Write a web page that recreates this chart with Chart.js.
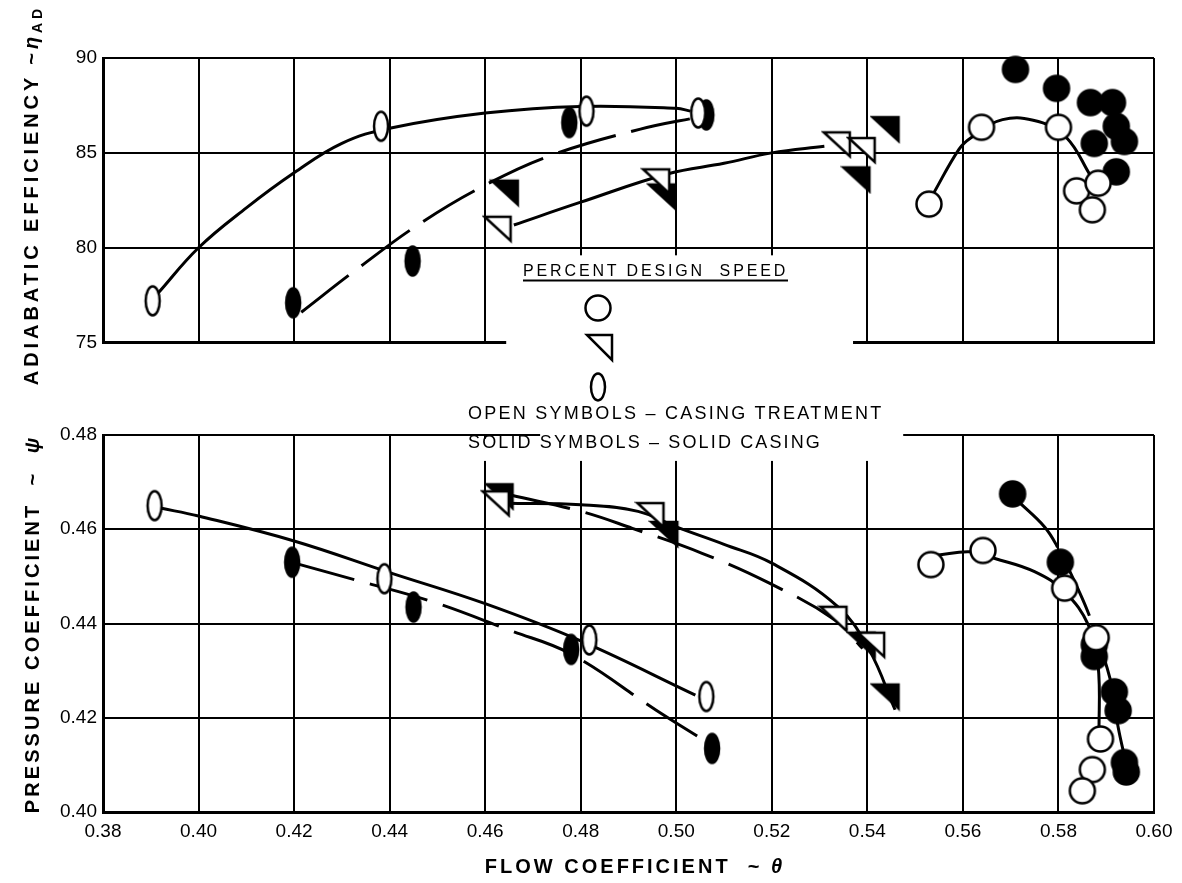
<!DOCTYPE html>
<html>
<head>
<meta charset="utf-8">
<script src="https://cdn.jsdelivr.net/npm/chart.js@4.4.0/dist/chart.umd.min.js"></script>
<style>
  body { margin: 0; background: #fff; width: 1182px; height: 883px; overflow: hidden; position: relative;
         font-family: "Liberation Sans", Arial, sans-serif; color: #000; }
  canvas { position: absolute; left: 0; }
  #effCanvas { top: 0; }
  #psiCanvas { top: 380px; }
  .txt { position: absolute; white-space: nowrap; line-height: 1; }
  .rot { transform: translate(-50%, -50%) rotate(-90deg); font-weight: bold; font-size: 20px; }
  .xtitle { transform: translate(-50%, -50%); font-weight: bold; font-size: 20px; }
  .legend { font-size: 18px; transform: translateY(-50%); }
  #speedHead { font-size: 16px; border-bottom: 2px solid #000; padding-bottom: 1px; }
  sub { font-size: 14px; vertical-align: -4px; }
  #legendSvg { position: absolute; left: 0; top: 0; }
</style>
</head>
<body>
<canvas id="effCanvas" width="1182" height="360"></canvas>
<canvas id="psiCanvas" width="1182" height="503"></canvas>

<div class="txt rot" id="effTitle" data-w="380" style="left:32px; top:195px">ADIABATIC EFFICIENCY ~<i>η</i><sub>AD</sub></div>
<div class="txt rot" id="psiTitle" data-w="378" style="left:32px; top:624px">PRESSURE COEFFICIENT &nbsp;~ &nbsp;<i>ψ</i></div>
<div class="txt xtitle" id="flowTitle" data-w="300" style="left:635px; top:866px">FLOW COEFFICIENT &nbsp;~ <i>θ</i></div>

<div class="txt legend" id="speedHead" data-w="265" style="left:523px; top:272px">PERCENT DESIGN &nbsp;SPEED</div>
<div class="txt legend" id="openNote" data-w="415" style="left:468px; top:413px">OPEN SYMBOLS – CASING TREATMENT</div>
<div class="txt legend" id="solidNote" data-w="354" style="left:468px; top:442px">SOLID SYMBOLS – SOLID CASING</div>

<svg id="legendSvg" width="1182" height="883">
  <circle cx="598" cy="308" r="12.5" fill="#fff" stroke="#000" stroke-width="2.5"/>
  <polygon points="587,335 612,335 612,360" fill="#fff" stroke="#000" stroke-width="2.5"/>
  <ellipse cx="598" cy="387" rx="7" ry="13.5" fill="#fff" stroke="#000" stroke-width="2.5"/>
</svg>

<script>
// axis ticks
const flowTicks = [0.38, 0.40, 0.42, 0.44, 0.46, 0.48, 0.50, 0.52, 0.54, 0.56, 0.58, 0.60];
const effTicks = [75, 80, 85, 90];
const psiTicks = [0.40, 0.42, 0.44, 0.46, 0.48];

// adiabatic efficiency panel, [flow coefficient, efficiency]
const effCircleOpen = [[0.5529, 82.3], [0.5639, 86.35], [0.580, 86.35], [0.5838, 83.0], [0.5883, 83.4], [0.5871, 82.0]];
const effCircleSolid = [[0.571, 89.4], [0.5796, 88.4], [0.5867, 87.65], [0.5913, 87.65], [0.5921, 86.4], [0.5938, 85.6], [0.5875, 85.5], [0.5921, 84.0]];
const effTriOpen = [[0.4626, 81.0], [0.4958, 83.5], [0.5336, 85.45], [0.5388, 85.15]];
const effTriSolid = [[0.4641, 82.9], [0.497, 82.7], [0.5377, 83.6], [0.5438, 86.25]];
const effEllOpen = [[0.3904, 77.2], [0.4382, 86.4], [0.4812, 87.2], [0.5046, 87.1]];
const effEllSolid = [[0.4198, 77.1], [0.4448, 79.3], [0.4776, 86.6], [0.5063, 87.0]];
// faired curves
const effCircleOpenLine = [[0.5537, 82.8], [0.5592, 85.2], [0.5617, 85.8], [0.5683, 86.75], [0.5758, 86.65], [0.5817, 85.8], [0.5867, 83.8]];
const effTriOpenLine = [[0.466, 81.2], [0.48, 82.4], [0.4983, 83.9], [0.51, 84.45], [0.52, 85.0], [0.531, 85.35]];
const effEllOpenLine = [[0.3915, 77.6], [0.40, 80.0], [0.41, 82.1], [0.42, 83.95], [0.43, 85.5], [0.44, 86.3], [0.46, 87.1], [0.48, 87.45], [0.50, 87.35], [0.503, 87.2]];
const effEllSolidLine = [[0.4215, 76.6], [0.4333, 78.9], [0.4465, 81.3], [0.46, 83.3], [0.4736, 84.85], [0.4925, 86.25], [0.505, 86.9]];

// pressure coefficient panel, [flow coefficient, psi]
const psiCircleOpen = [[0.5533, 0.4525], [0.5642, 0.4555], [0.5813, 0.4475], [0.5879, 0.437], [0.5888, 0.4155], [0.5871, 0.409], [0.585, 0.4045]];
const psiCircleSolid = [[0.5704, 0.4675], [0.5804, 0.453], [0.5875, 0.4355], [0.5875, 0.433], [0.5917, 0.4255], [0.5925, 0.4215], [0.5938, 0.4105], [0.5942, 0.4085]];
const psiTriOpen = [[0.4622, 0.4655], [0.4946, 0.463], [0.5329, 0.441], [0.5408, 0.4355]];
const psiTriSolid = [[0.463, 0.467], [0.4975, 0.459], [0.5388, 0.4355], [0.5438, 0.4245]];
const psiEllOpen = [[0.3908, 0.465], [0.4389, 0.4495], [0.4818, 0.4365], [0.5063, 0.4245]];
const psiEllSolid = [[0.4196, 0.453], [0.445, 0.4435], [0.478, 0.4345], [0.5075, 0.4135]];
const psiCircleOpenLine = [[0.5545, 0.4545], [0.5617, 0.4552], [0.5667, 0.4538], [0.575, 0.451], [0.5813, 0.4467], [0.5863, 0.4396], [0.5883, 0.4312], [0.5885, 0.4163]];
const psiCircleSolidLine = [[0.5717, 0.4658], [0.5771, 0.4605], [0.5796, 0.4566], [0.5842, 0.4471], [0.5867, 0.441], [0.5908, 0.4283], [0.5925, 0.418], [0.594, 0.411]];
const psiTriOpenLine = [[0.4645, 0.4655], [0.48, 0.4652], [0.492, 0.4638], [0.50, 0.4605], [0.51, 0.4568], [0.52, 0.4528], [0.5338, 0.4436], [0.5404, 0.4344], [0.5458, 0.4217]];
const psiTriSolidLine = [[0.4655, 0.4672], [0.48, 0.4638], [0.4908, 0.4602], [0.5054, 0.4549], [0.5196, 0.4485], [0.5333, 0.4407], [0.539, 0.4347]];
const psiEllOpenLine = [[0.392, 0.4645], [0.40, 0.4628], [0.42, 0.4575], [0.44, 0.4508], [0.46, 0.4442], [0.48, 0.4363], [0.504, 0.4248]];
const psiEllSolidLine = [[0.4205, 0.4527], [0.433, 0.4492], [0.449, 0.4446], [0.465, 0.4386], [0.478, 0.4335], [0.4958, 0.4216], [0.5063, 0.4149]];

const FONT = '"Liberation Sans", Arial, sans-serif';
Chart.defaults.font.family = FONT;
Chart.defaults.color = '#000';

function makeSprite(w, h, draw) {
    const c = document.createElement('canvas');
    c.width = w;
    c.height = h;
    draw(c.getContext('2d'), w, h);
    return c;
}

function paint(g, solid) {
    g.fillStyle = solid ? '#000' : '#fff';
    g.fill();
    g.lineWidth = 2.5;
    g.strokeStyle = '#000';
    g.stroke();
}

const circleOpen = makeSprite(30, 30, g => { g.beginPath(); g.arc(15, 15, 12.5, 0, Math.PI * 2); paint(g, false); });
const circleSolid = makeSprite(30, 30, g => { g.beginPath(); g.arc(15, 15, 12.5, 0, Math.PI * 2); paint(g, true); });
const triOpen = makeSprite(32, 30, g => { g.beginPath(); g.moveTo(3, 3); g.lineTo(29, 3); g.lineTo(29, 27); g.closePath(); paint(g, false); });
const triSolid = makeSprite(32, 30, g => { g.beginPath(); g.moveTo(3, 3); g.lineTo(29, 3); g.lineTo(29, 27); g.closePath(); paint(g, true); });
const ellOpen = makeSprite(20, 34, g => { g.beginPath(); g.ellipse(10, 17, 7, 14.5, 0, 0, Math.PI * 2); paint(g, false); });
const ellSolid = makeSprite(20, 34, g => { g.beginPath(); g.ellipse(10, 17, 7, 14.5, 0, 0, Math.PI * 2); paint(g, true); });

function symbols(data, sprite) {
    return {
        data: data.map(([x, y]) => ({ x, y })),
        pointStyle: sprite,
        pointRadius: 12,
        showLine: false,
        clip: false,
        order: 0
    };
}

function curve(data, dashed) {
    return {
        data: data.map(([x, y]) => ({ x, y })),
        showLine: true,
        pointRadius: 0,
        borderColor: '#000',
        borderWidth: 3,
        borderDash: dashed ? [60, 16] : [],
        tension: 0.4,
        fill: false,
        clip: false,
        order: 1
    };
}

// white-out the grid where the legend sits (rects in data units)
const gapPlugin = {
    id: 'gaps',
    beforeDatasetsDraw(chart, args, opts) {
        const { ctx, scales: { x, y } } = chart;
        ctx.save();
        ctx.fillStyle = '#fff';
        (opts.rects || []).forEach(([x0, x1, y0, y1]) => {
            const px0 = x.getPixelForValue(x0), px1 = x.getPixelForValue(x1);
            const py0 = y.getPixelForValue(y0), py1 = y.getPixelForValue(y1);
            ctx.fillRect(Math.min(px0, px1), Math.min(py0, py1), Math.abs(px1 - px0), Math.abs(py1 - py0));
        });
        ctx.restore();
    }
};

const gridStyle = { color: '#000', lineWidth: 2, drawTicks: false };
const borderStyle = { color: '#000', width: 3 };

function createEffChart() {
    new Chart(document.getElementById('effCanvas'), {
        type: 'scatter',
        data: {
            datasets: [
                symbols(effCircleOpen, circleOpen),
                symbols(effTriOpen, triOpen),
                symbols(effEllOpen, ellOpen),
                symbols(effCircleSolid, circleSolid),
                symbols(effTriSolid, triSolid),
                symbols(effEllSolid, ellSolid),
                curve(effCircleOpenLine, false),
                curve(effTriOpenLine, false),
                curve(effEllOpenLine, false),
                curve(effEllSolidLine, true)
            ]
        },
        options: {
            responsive: false,
            animation: false,
            layout: { padding: { top: 58, right: 28, bottom: 15, left: 0 } },
            scales: {
                x: {
                    type: 'linear', min: 0.38, max: 0.60,
                    afterBuildTicks: s => { s.ticks = flowTicks.map(v => ({ value: v })); },
                    afterFit: s => { s.height = 0; },
                    ticks: { display: false },
                    grid: gridStyle,
                    border: borderStyle
                },
                y: {
                    type: 'linear', min: 75, max: 90,
                    afterBuildTicks: s => { s.ticks = effTicks.map(v => ({ value: v })); },
                    afterFit: s => { s.width = 103; },
                    ticks: { padding: 6, font: { size: 19 }, callback: v => String(v) },
                    grid: gridStyle,
                    border: borderStyle
                }
            },
            plugins: {
                legend: { display: false },
                tooltip: { enabled: false },
                gaps: { rects: [[0.4644, 0.537, 79.6, 74.6]] }
            }
        },
        plugins: [gapPlugin]
    });
}

function createPsiChart() {
    new Chart(document.getElementById('psiCanvas'), {
        type: 'scatter',
        data: {
            datasets: [
                symbols(psiCircleOpen, circleOpen),
                symbols(psiTriOpen, triOpen),
                symbols(psiEllOpen, ellOpen),
                symbols(psiCircleSolid, circleSolid),
                symbols(psiTriSolid, triSolid),
                symbols(psiEllSolid, ellSolid),
                curve(psiCircleOpenLine, false),
                curve(psiTriOpenLine, false),
                curve(psiEllOpenLine, false),
                curve(psiCircleSolidLine, true),
                curve(psiTriSolidLine, true),
                curve(psiEllSolidLine, true)
            ]
        },
        options: {
            responsive: false,
            animation: false,
            layout: { padding: { top: 55, right: 28, bottom: 0, left: 0 } },
            scales: {
                x: {
                    type: 'linear', min: 0.38, max: 0.60,
                    afterBuildTicks: s => { s.ticks = flowTicks.map(v => ({ value: v })); },
                    afterFit: s => { s.height = 71; },
                    ticks: { padding: 8, font: { size: 19 }, maxRotation: 0, autoSkip: false, callback: v => v.toFixed(2) },
                    grid: gridStyle,
                    border: borderStyle
                },
                y: {
                    type: 'linear', min: 0.40, max: 0.48,
                    afterBuildTicks: s => { s.ticks = psiTicks.map(v => ({ value: v })); },
                    afterFit: s => { s.width = 103; },
                    ticks: { padding: 6, font: { size: 19 }, callback: v => v.toFixed(2) },
                    grid: gridStyle,
                    border: borderStyle
                }
            },
            plugins: {
                legend: { display: false },
                tooltip: { enabled: false },
                gaps: { rects: [[0.4715, 0.5475, 0.4815, 0.4745], [0.455, 0.4715, 0.4792, 0.4745]] }
            }
        },
        plugins: [gapPlugin]
    });
}

// stretch text to the width it has in the figure
function fitText() {
    document.querySelectorAll('[data-w]').forEach(el => {
        const target = parseFloat(el.dataset.w);
        const n = el.textContent.length;
        const extra = (target - el.offsetWidth) / n;
        el.style.letterSpacing = extra.toFixed(2) + 'px';
    });
}

fitText();
createEffChart();
createPsiChart();
</script>
</body>
</html>
